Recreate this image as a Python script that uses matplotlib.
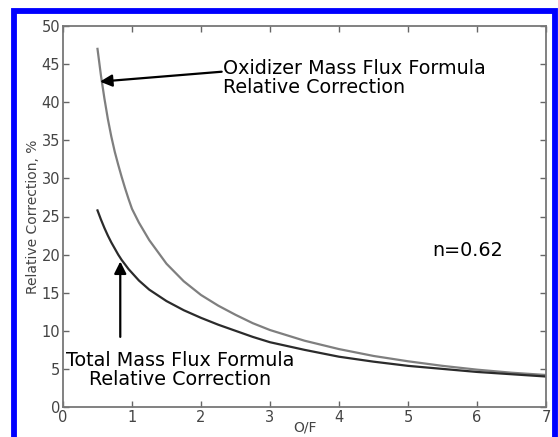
import matplotlib
matplotlib.use('Agg')
import matplotlib.pyplot as plt
from matplotlib.patches import Rectangle

# O/F values and relative corrections (%)
of_ratio = [0.5, 0.55, 0.6, 0.65, 0.7, 0.75, 0.8, 0.85, 0.9, 0.95, 1.0,
            1.1, 1.25, 1.5, 1.75, 2.0, 2.25, 2.5, 2.75, 3.0,
            3.5, 4.0, 4.5, 5.0, 5.5, 6.0, 6.5, 7.0]
oxidizer_corr = [47.0, 43.5, 40.5, 37.8, 35.5, 33.5, 31.8, 30.2, 28.7, 27.3, 26.0,
                 24.2, 21.9, 18.8, 16.5, 14.7, 13.3, 12.1, 11.0, 10.1,
                 8.7, 7.6, 6.7, 6.0, 5.4, 4.9, 4.5, 4.2]
total_corr = [25.8, 24.6, 23.5, 22.5, 21.6, 20.8, 20.0, 19.3, 18.7, 18.1, 17.6,
              16.6, 15.4, 13.9, 12.7, 11.7, 10.8, 10.0, 9.2, 8.5,
              7.5, 6.6, 5.95, 5.4, 5.0, 4.6, 4.3, 4.0]

x_ticks = list(range(0, 8))
y_ticks = list(range(0, 55, 5))

fig = plt.figure(figsize=(5.58, 4.37), dpi=100)
ax = fig.add_axes([63 / 558, 30 / 437, 483 / 558, 381 / 437])

ax.plot(of_ratio, oxidizer_corr, color='#7f7f7f', lw=1.6)
ax.plot(of_ratio, total_corr, color='#2b2b2b', lw=1.6)

ax.set_xlim(0, 7)
ax.set_ylim(0, 50)
ax.set_xticks(x_ticks)
ax.set_yticks(y_ticks)
ax.tick_params(direction='in', top=True, right=True, length=4, width=1,
               color='#666666', labelcolor='#444444', labelsize=10.5, pad=2)
for s in ax.spines.values():
    s.set_color('#777777')
    s.set_linewidth(1.3)

ax.set_ylabel('Relative Correction, %', fontsize=10, color='#444444', labelpad=1)
ax.set_xlabel('O/F', fontsize=10, color='#444444', labelpad=-3)

# annotations
ax.annotate('', xy=(0.536, 42.7), xytext=(2.30, 44.0),
            arrowprops=dict(arrowstyle='-|>', color='black', lw=1.6,
                            mutation_scale=18, shrinkA=0, shrinkB=0))
ax.text(2.32, 43.2, 'Oxidizer Mass Flux Formula\nRelative Correction',
        fontsize=13.8, ha='left', va='center', linespacing=1.0)

ax.annotate('', xy=(0.83, 19.1), xytext=(0.83, 9.2),
            arrowprops=dict(arrowstyle='-|>', color='black', lw=1.6,
                            mutation_scale=18, shrinkA=0, shrinkB=0))
ax.text(1.70, 4.85, 'Total Mass Flux Formula\nRelative Correction',
        fontsize=13.8, ha='center', va='center', linespacing=1.0)

ax.text(5.86, 20.6, 'n=0.62', fontsize=13.8, ha='center', va='center')

# blue frame around the figure
frame = Rectangle((13.5 / 558, -0.1), 541 / 558, (437 - 11) / 437 + 0.1,
                  transform=fig.transFigure, fill=False, edgecolor='#0000ff',
                  linewidth=4.2, clip_on=False)
fig.add_artist(frame)

fig.savefig('out.png', dpi=100)
